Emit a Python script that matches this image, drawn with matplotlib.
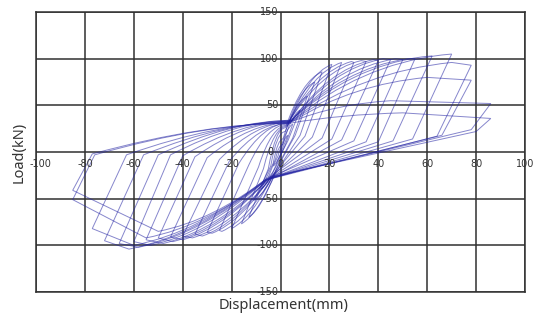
import numpy as np
import matplotlib
matplotlib.use("Agg")
import matplotlib.pyplot as plt
from matplotlib.path import Path
from matplotlib.patches import PathPatch

# key points of each load cycle (displacement mm, load kN)
# upper pinch (reload crossing near x=0)
up_x = [0, 0, 1, 1, 2, 2, 3, 3, 3, 3, 4, 4, 4, 4, 4, 5, 5, 5, 4, 4]
up_y = [0, 3, 8, 14, 22, 26, 28, 29, 30, 31, 31, 32, 32, 33, 33, 34, 34, 33, 32, 31]
# max positive load
pmax_x = [3, 5, 8, 11, 14, 17, 21, 25, 29, 33, 38, 42, 47, 52, 58, 66, 70, 60, 45, 50]
pmax_y = [18, 30, 45, 60, 75, 86, 94, 96, 97, 98, 99, 100, 100, 100, 102, 104, 96, 80, 55, 42]
# positive displacement tip
ptip_x = [3, 5, 8, 11, 14, 17, 21, 25, 30, 35, 40, 45, 50, 55, 62, 70, 78, 78, 86, 86]
ptip_y = [18, 30, 45, 60, 75, 86, 94, 96, 96, 97, 98, 99, 99, 100, 103, 105, 93, 77, 52, 36]
# end of steep unloading from positive tip
pknee_x = [1, 2, 3, 5, 6, 8, 10, 13, 17, 21, 25, 30, 35, 40, 46, 54, 64, 66, 78, 80]
pknee_y = [5, 8, 12, 15, 18, 18, 17, 16, 15, 14, 13, 12, 11, 11, 12, 14, 17, 18, 24, 22]
# lower pinch
lo_x = [0, 0, -1, -1, -2, -2, -3, -3, -4, -4, -4, -5, -5, -5, -6, -6, -6, -6, -5, -5]
lo_y = [-2, -4, -8, -14, -20, -22, -24, -25, -26, -27, -28, -28, -29, -29, -30, -30, -30, -29, -28, -27]
# max negative load
nmax_x = [-3, -5, -8, -11, -13, -16, -20, -24, -28, -32, -36, -40, -44, -48, -53, -58, -62, -60, -55, -50]
nmax_y = [-15, -27, -40, -52, -70, -77, -82, -85, -87, -90, -92, -94, -96, -98, -100, -102, -104, -100, -92, -85]
# negative displacement tip
ntip_x = [-3, -5, -8, -11, -13, -16, -20, -25, -30, -35, -40, -45, -50, -55, -60, -66, -72, -77, -85, -85]
ntip_y = [-15, -27, -40, -52, -70, -77, -82, -84, -86, -88, -90, -91, -92, -94, -96, -98, -95, -82, -51, -41]
# end of steep unloading from negative tip
nknee_x = [-1, -2, -3, -4, -5, -7, -9, -13, -17, -21, -25, -30, -35, -40, -45, -50, -56, -63, -76, -77]
nknee_y = [-4, -7, -12, -15, -18, -18, -16, -14, -12, -10, -8, -6, -5, -4, -3, -3, -3, -3, -3, -2]

x_ticks = [-100, -80, -60, -40, -20, 0, 20, 40, 60, 80, 100]
y_ticks = [-150, -100, -50, 0, 50, 100, 150]

fig = plt.figure(figsize=(5.46, 3.22), dpi=100)
ax = fig.add_axes([0.066, 0.093, 0.8956, 0.8696])

n = len(up_x)
for i in range(n):
    j = min(i + 1, n - 1)
    verts = [
        (up_x[i], up_y[i]),
        (up_x[i] + 0.45 * (pmax_x[i] - up_x[i]), up_y[i] + 0.85 * (pmax_y[i] - up_y[i])),
        (pmax_x[i], pmax_y[i]),
        (ptip_x[i], ptip_y[i]),
        (pknee_x[i], pknee_y[i]),
        (lo_x[i], lo_y[i]),
        (lo_x[i] + 0.5 * (nmax_x[i] - lo_x[i]), lo_y[i] + 0.8 * (nmax_y[i] - lo_y[i])),
        (nmax_x[i], nmax_y[i]),
        (ntip_x[i], ntip_y[i]),
        (nknee_x[i], nknee_y[i]),
        (0.4 * nknee_x[i], up_y[j]), (up_x[j], up_y[j]),
    ]
    codes = [Path.MOVETO, Path.CURVE3, Path.CURVE3, Path.LINETO, Path.LINETO,
             Path.LINETO, Path.CURVE3, Path.CURVE3, Path.LINETO, Path.LINETO,
             Path.CURVE3, Path.CURVE3]
    ax.add_patch(PathPatch(Path(verts, codes), fill=False, edgecolor="#2323a3",
                           lw=0.7, alpha=0.55, zorder=3))

ax.set_xlim(-100, 100)
ax.set_ylim(-150, 150)
ax.set_xticks(x_ticks)
ax.set_yticks(y_ticks)
ax.grid(True, color="#303030", lw=1.1, zorder=1)
ax.tick_params(length=0, labelbottom=False, labelleft=False)
for s in ax.spines.values():
    s.set_color("#303030")
    s.set_linewidth(1.1)

# tick labels sit on the axes through the origin
for xt in x_ticks:
    dx = 3 if xt == -100 else 0
    ax.annotate(str(xt), (xt, 0), xytext=(dx, -5), textcoords="offset points",
                ha="center", va="top", fontsize=7, color="#333333", zorder=4)
for yt in y_ticks:
    if yt == 0:
        continue
    ax.annotate(str(yt), (0, yt), xytext=(-1.5, 0), textcoords="offset points",
                ha="right", va="center", fontsize=7, color="#333333", zorder=4)
ax.annotate("0", (0, 0), xytext=(-5, 0), textcoords="offset points",
            ha="right", va="center", fontsize=7, color="#333333", zorder=4)

fig.text(0.52, 0.052, "Displacement(mm)", ha="center", va="center", fontsize=10.5,
         color="#333333", family="Noto Sans")
fig.text(0.035, 0.528, "Load(kN)", ha="center", va="center", rotation=90,
         fontsize=10.5, color="#333333", family="Noto Sans")

fig.savefig("out.png", dpi=100)
